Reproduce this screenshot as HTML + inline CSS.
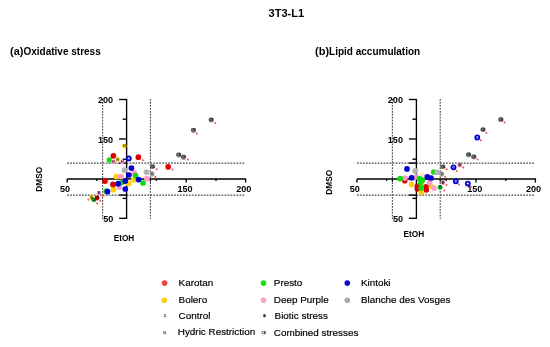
<!DOCTYPE html>
<html lang="en"><head><meta charset="utf-8"><title>3T3-L1</title>
<style>html,body{margin:0;padding:0;background:#fff;}body{width:550px;height:347px;overflow:hidden;font-family:"Liberation Sans",Arial,sans-serif;}svg{display:block}</style>
</head><body>
<svg width="550" height="347" viewBox="0 0 550 347" font-family="'Liberation Sans', Arial, sans-serif">
<rect width="550" height="347" fill="#fff"/>
<text x="286.3" y="17" text-anchor="middle" font-size="11" font-weight="bold">3T3-L1</text>
<text x="10" y="54.6" font-weight="bold"><tspan font-size="11">(a)</tspan><tspan font-size="10">Oxidative stress</tspan></text>
<text x="315" y="54.6" font-weight="bold"><tspan font-size="11">(b)</tspan><tspan font-size="10">Lipid accumulation</tspan></text>
<g><line x1="67.14999999999999" y1="163.1" x2="244.6" y2="163.1" stroke="#4a4a4a" stroke-width="1.1" stroke-dasharray="1.75 1.22"/>
<line x1="67.14999999999999" y1="195.1" x2="244.6" y2="195.1" stroke="#4a4a4a" stroke-width="1.1" stroke-dasharray="1.75 1.22"/>
<line x1="102.6" y1="99.0" x2="102.6" y2="219.0" stroke="#4a4a4a" stroke-width="1.1" stroke-dasharray="1.75 1.22"/>
<line x1="150.4" y1="99.0" x2="150.4" y2="219.0" stroke="#4a4a4a" stroke-width="1.1" stroke-dasharray="1.75 1.22"/>
<line x1="67.14999999999999" y1="178.95" x2="246.2" y2="178.95" stroke="#000" stroke-width="1.35"/>
<line x1="126.6" y1="98.9" x2="126.6" y2="218.9" stroke="#000" stroke-width="1.35"/>
<line x1="67.14999999999999" y1="178.95" x2="67.14999999999999" y2="182.54999999999998" stroke="#000" stroke-width="1.35"/>
<line x1="186.2" y1="178.95" x2="186.2" y2="182.54999999999998" stroke="#000" stroke-width="1.35"/>
<line x1="245.6" y1="178.95" x2="245.6" y2="182.54999999999998" stroke="#000" stroke-width="1.35"/>
<line x1="96.8" y1="178.95" x2="96.8" y2="180.95" stroke="#000" stroke-width="1.35"/>
<line x1="156.4" y1="178.95" x2="156.4" y2="180.95" stroke="#000" stroke-width="1.35"/>
<line x1="216.0" y1="178.95" x2="216.0" y2="180.95" stroke="#000" stroke-width="1.35"/>
<line x1="102.6" y1="178.95" x2="102.6" y2="181.95" stroke="#000" stroke-width="1"/>
<line x1="150.4" y1="178.95" x2="150.4" y2="181.95" stroke="#000" stroke-width="1"/>
<line x1="119.1" y1="99.5" x2="126.6" y2="99.5" stroke="#000" stroke-width="1.35"/>
<line x1="119.1" y1="139.0" x2="126.6" y2="139.0" stroke="#000" stroke-width="1.35"/>
<line x1="119.1" y1="218.3" x2="126.6" y2="218.3" stroke="#000" stroke-width="1.35"/>
<line x1="122.6" y1="119.2" x2="126.6" y2="119.2" stroke="#000" stroke-width="1.35"/>
<line x1="122.6" y1="159.2" x2="126.6" y2="159.2" stroke="#000" stroke-width="1.35"/>
<line x1="122.6" y1="198.4" x2="126.6" y2="198.4" stroke="#000" stroke-width="1.35"/>
<line x1="119.1" y1="163.1" x2="126.6" y2="163.1" stroke="#000" stroke-width="1.35"/>
<line x1="119.1" y1="195.1" x2="126.6" y2="195.1" stroke="#000" stroke-width="1.35"/>
<text x="64.94999999999999" y="192.2" text-anchor="middle" font-size="9.1" font-weight="bold" fill="#000">50</text>
<text x="185.0" y="192.2" text-anchor="middle" font-size="9.1" font-weight="bold" fill="#000">150</text>
<text x="243.79999999999998" y="192.2" text-anchor="middle" font-size="9.1" font-weight="bold" fill="#000">200</text>
<text x="113.19999999999999" y="103.0" text-anchor="end" font-size="9.1" font-weight="bold" fill="#000">200</text>
<text x="113.19999999999999" y="142.5" text-anchor="end" font-size="9.1" font-weight="bold" fill="#000">150</text>
<text x="113.39999999999999" y="221.7" text-anchor="end" font-size="9.1" font-weight="bold" fill="#000">50</text>
<text x="124.0" y="241.1" text-anchor="middle" font-size="8.25" font-weight="bold">EtOH</text>
<text transform="translate(42.39999999999999,179.2) rotate(-90)" text-anchor="middle" font-size="8.3" font-weight="bold">DMSO</text></g>
<g><line x1="356.95" y1="163.1" x2="534.4" y2="163.1" stroke="#4a4a4a" stroke-width="1.1" stroke-dasharray="1.75 1.22"/>
<line x1="356.95" y1="195.1" x2="534.4" y2="195.1" stroke="#4a4a4a" stroke-width="1.1" stroke-dasharray="1.75 1.22"/>
<line x1="392.4" y1="99.0" x2="392.4" y2="219.0" stroke="#4a4a4a" stroke-width="1.1" stroke-dasharray="1.75 1.22"/>
<line x1="440.2" y1="99.0" x2="440.2" y2="219.0" stroke="#4a4a4a" stroke-width="1.1" stroke-dasharray="1.75 1.22"/>
<line x1="356.95" y1="178.95" x2="536.0" y2="178.95" stroke="#000" stroke-width="1.35"/>
<line x1="416.4" y1="98.9" x2="416.4" y2="218.9" stroke="#000" stroke-width="1.35"/>
<line x1="356.95" y1="178.95" x2="356.95" y2="182.54999999999998" stroke="#000" stroke-width="1.35"/>
<line x1="476.0" y1="178.95" x2="476.0" y2="182.54999999999998" stroke="#000" stroke-width="1.35"/>
<line x1="535.4" y1="178.95" x2="535.4" y2="182.54999999999998" stroke="#000" stroke-width="1.35"/>
<line x1="386.59999999999997" y1="178.95" x2="386.59999999999997" y2="180.95" stroke="#000" stroke-width="1.35"/>
<line x1="446.2" y1="178.95" x2="446.2" y2="180.95" stroke="#000" stroke-width="1.35"/>
<line x1="505.79999999999995" y1="178.95" x2="505.79999999999995" y2="180.95" stroke="#000" stroke-width="1.35"/>
<line x1="392.4" y1="178.95" x2="392.4" y2="181.95" stroke="#000" stroke-width="1"/>
<line x1="440.2" y1="178.95" x2="440.2" y2="181.95" stroke="#000" stroke-width="1"/>
<line x1="408.9" y1="99.5" x2="416.4" y2="99.5" stroke="#000" stroke-width="1.35"/>
<line x1="408.9" y1="139.0" x2="416.4" y2="139.0" stroke="#000" stroke-width="1.35"/>
<line x1="408.9" y1="218.3" x2="416.4" y2="218.3" stroke="#000" stroke-width="1.35"/>
<line x1="412.4" y1="119.2" x2="416.4" y2="119.2" stroke="#000" stroke-width="1.35"/>
<line x1="412.4" y1="159.2" x2="416.4" y2="159.2" stroke="#000" stroke-width="1.35"/>
<line x1="412.4" y1="198.4" x2="416.4" y2="198.4" stroke="#000" stroke-width="1.35"/>
<line x1="408.9" y1="163.1" x2="416.4" y2="163.1" stroke="#000" stroke-width="1.35"/>
<line x1="408.9" y1="195.1" x2="416.4" y2="195.1" stroke="#000" stroke-width="1.35"/>
<text x="354.75" y="192.2" text-anchor="middle" font-size="9.1" font-weight="bold" fill="#000">50</text>
<text x="474.79999999999995" y="192.2" text-anchor="middle" font-size="9.1" font-weight="bold" fill="#000">150</text>
<text x="533.6" y="192.2" text-anchor="middle" font-size="9.1" font-weight="bold" fill="#000">200</text>
<text x="403.0" y="103.0" text-anchor="end" font-size="9.1" font-weight="bold" fill="#000">200</text>
<text x="403.0" y="142.5" text-anchor="end" font-size="9.1" font-weight="bold" fill="#000">150</text>
<text x="403.2" y="221.7" text-anchor="end" font-size="9.1" font-weight="bold" fill="#000">50</text>
<text x="413.79999999999995" y="236.7" text-anchor="middle" font-size="8.25" font-weight="bold">EtOH</text>
<text transform="translate(332.2,182.3) rotate(-90)" text-anchor="middle" font-size="8.3" font-weight="bold">DMSO</text></g>
<g><circle cx="116.4" cy="176.5" r="2.85" fill="#ffd000"/><circle cx="133.7" cy="179.8" r="2.85" fill="#ffd000"/><circle cx="128.7" cy="183.5" r="2.85" fill="#ffd000"/><circle cx="113.5" cy="189.7" r="2.85" fill="#ffd000"/><circle cx="91.6" cy="197.5" r="2.2" fill="#e8c000"/><text x="91.6" y="198.6" font-size="3.2" font-weight="bold" text-anchor="middle" fill="#540">B</text><circle cx="113.4" cy="155.8" r="2.85" fill="#e00000"/><circle cx="138.4" cy="157.2" r="2.85" fill="#e00000"/><circle cx="105" cy="181.1" r="2.85" fill="#e00000"/><circle cx="113" cy="184.4" r="2.85" fill="#e00000"/><circle cx="168.2" cy="166.8" r="2.85" fill="#e00000"/><circle cx="97.1" cy="198" r="2.4" fill="#d00000"/><text x="97.1" y="199.1" font-size="3.2" font-weight="bold" text-anchor="middle" fill="#500">CB</text><circle cx="109.3" cy="159.9" r="2.6" fill="#10dc10"/><circle cx="134.2" cy="172.8" r="2.85" fill="#ff9ac8"/><circle cx="121" cy="176.5" r="2.85" fill="#ff9ac8"/><circle cx="119.4" cy="187.1" r="2.85" fill="#ff9ac8"/><circle cx="146.8" cy="178.6" r="2.85" fill="#ff9ac8"/><circle cx="135.6" cy="175.6" r="2.85" fill="#10dc10"/><circle cx="143" cy="183" r="2.85" fill="#10dc10"/><circle cx="121.8" cy="182.5" r="2.85" fill="#10dc10"/><circle cx="106.3" cy="191.2" r="2.85" fill="#10dc10"/><circle cx="93.9" cy="199.8" r="2.4" fill="#10a810"/><text x="93.9" y="200.9" font-size="3.2" font-weight="bold" text-anchor="middle" fill="#043">CB</text><circle cx="124.3" cy="146.1" r="2.3" fill="#ffd000"/><text x="124.3" y="147.2" font-size="3.2" font-weight="bold" text-anchor="middle" fill="#1a1a1a">H</text><circle cx="117.6" cy="159.4" r="2.3" fill="#ffd000"/><text x="117.6" y="160.5" font-size="3.2" font-weight="bold" text-anchor="middle" fill="#1a1a1a">H</text><circle cx="113.5" cy="161.9" r="2.3" fill="#ff9ac8"/><text x="113.5" y="163.0" font-size="3.2" font-weight="bold" text-anchor="middle" fill="#1a1a1a">H</text><circle cx="122.3" cy="162.1" r="2.3" fill="#ff9ac8"/><text x="122.3" y="163.2" font-size="3.2" font-weight="bold" text-anchor="middle" fill="#1a1a1a">H</text><circle cx="98.9" cy="193.0" r="2.3" fill="#ff9ac8"/><text x="98.9" y="194.1" font-size="3.2" font-weight="bold" text-anchor="middle" fill="#1a1a1a">B</text><circle cx="124.6" cy="170.2" r="2.85" fill="#b4b4b4"/><circle cx="131.4" cy="168.1" r="2.85" fill="#0000d0"/><circle cx="128.9" cy="175" r="2.85" fill="#0000d0"/><circle cx="138.5" cy="179.6" r="2.85" fill="#0000d0"/><circle cx="125.3" cy="181.1" r="2.85" fill="#0000d0"/><circle cx="118.2" cy="183.7" r="2.85" fill="#0000d0"/><circle cx="125.3" cy="189" r="2.85" fill="#0000d0"/><circle cx="107.5" cy="191.6" r="2.85" fill="#0000d0"/><circle cx="128.8" cy="158.4" r="2.9" fill="#0000d0"/><circle cx="128.8" cy="158.4" r="1.15" fill="#e8e8ff"/><text x="128.8" y="159.3" font-size="2.4" font-weight="bold" text-anchor="middle" fill="#0000d0">H</text><circle cx="146.5" cy="172.1" r="2.85" fill="#b4b4b4"/><circle cx="152.1" cy="173.9" r="2.5" fill="#a0a0a0"/><text x="152.1" y="175.0" font-size="3.2" font-weight="bold" text-anchor="middle" fill="#1a1a1a">C</text><circle cx="152.5" cy="166.5" r="2.5" fill="#808080"/><text x="152.5" y="167.6" font-size="3.2" font-weight="bold" text-anchor="middle" fill="#1a1a1a">CB</text><circle cx="211.2" cy="119.8" r="2.6" fill="#808080"/><text x="211.2" y="120.89999999999999" font-size="3.2" font-weight="bold" text-anchor="middle" fill="#1a1a1a">CB</text><circle cx="193.5" cy="130.3" r="2.6" fill="#808080"/><text x="193.5" y="131.4" font-size="3.2" font-weight="bold" text-anchor="middle" fill="#1a1a1a">CB</text><circle cx="178.7" cy="154.8" r="2.6" fill="#808080"/><text x="178.7" y="155.9" font-size="3.2" font-weight="bold" text-anchor="middle" fill="#1a1a1a">CB</text><circle cx="183.5" cy="157.2" r="2.6" fill="#808080"/><text x="183.5" y="158.29999999999998" font-size="3.2" font-weight="bold" text-anchor="middle" fill="#1a1a1a">CB</text><circle cx="215.3" cy="123" r="1.0" fill="#f25050"/><circle cx="196.8" cy="133.5" r="1.0" fill="#f25050"/><circle cx="187.8" cy="159.5" r="1.0" fill="#f25050"/><circle cx="143" cy="160.3" r="1.0" fill="#f25050"/><circle cx="156.7" cy="169.3" r="1.0" fill="#f25050"/><circle cx="172.4" cy="169.5" r="1.0" fill="#f25050"/><circle cx="155.3" cy="177.1" r="1.0" fill="#f25050"/><circle cx="88.4" cy="199.8" r="1.0" fill="#f25050"/><circle cx="97.1" cy="203.5" r="1.0" fill="#f25050"/><circle cx="100.2" cy="200.7" r="1.0" fill="#f25050"/><circle cx="102.7" cy="195.7" r="1.0" fill="#f25050"/></g>
<g><circle cx="404.8" cy="180.8" r="2.8" fill="#e00000"/><circle cx="417.3" cy="186.4" r="2.8" fill="#e00000"/><circle cx="417.3" cy="189.0" r="2.8" fill="#e00000"/><circle cx="426" cy="186.9" r="2.8" fill="#e00000"/><circle cx="426.3" cy="190.0" r="2.8" fill="#e00000"/><circle cx="411.4" cy="184.4" r="2.6" fill="#ffc800"/><circle cx="421.2" cy="192.6" r="2.6" fill="#ffc800"/><circle cx="431.5" cy="186.5" r="2.6" fill="#ffc800"/><circle cx="404.8" cy="178" r="2.85" fill="#ff9ac8"/><circle cx="415.9" cy="177.1" r="2.85" fill="#ff9ac8"/><circle cx="429.6" cy="182.6" r="2.85" fill="#ff9ac8"/><circle cx="434" cy="188.1" r="2.85" fill="#ff9ac8"/><circle cx="422.6" cy="175.4" r="2.85" fill="#ffe4d8"/><circle cx="400.2" cy="178.7" r="2.85" fill="#10dc10"/><circle cx="419.5" cy="178.5" r="2.85" fill="#10dc10"/><circle cx="422.3" cy="180.2" r="2.85" fill="#10dc10"/><circle cx="420.8" cy="183.0" r="2.85" fill="#10dc10"/><circle cx="421.2" cy="188.1" r="2.85" fill="#10dc10"/><circle cx="433.8" cy="172" r="2.85" fill="#10dc10"/><circle cx="440.1" cy="187.2" r="2.5" fill="#10b820"/><text x="440.1" y="188.29999999999998" font-size="3.2" font-weight="bold" text-anchor="middle" fill="#1a1a1a">B</text><circle cx="407" cy="168.9" r="2.85" fill="#0000d0"/><circle cx="411.6" cy="177.8" r="2.85" fill="#0000d0"/><circle cx="427.3" cy="176.9" r="2.85" fill="#0000d0"/><circle cx="431" cy="178" r="2.85" fill="#0000d0"/><circle cx="415.3" cy="170.9" r="2.85" fill="#b4b4b4"/><circle cx="437.2" cy="172.3" r="2.85" fill="#b4b4b4"/><circle cx="441.8" cy="174.1" r="2.5" fill="#a0a0a0"/><text x="441.8" y="175.2" font-size="3.2" font-weight="bold" text-anchor="middle" fill="#1a1a1a">C</text><circle cx="442.9" cy="166.8" r="2.5" fill="#808080"/><text x="442.9" y="167.9" font-size="3.2" font-weight="bold" text-anchor="middle" fill="#1a1a1a">CB</text><circle cx="468.6" cy="154.6" r="2.6" fill="#808080"/><text x="468.6" y="155.7" font-size="3.2" font-weight="bold" text-anchor="middle" fill="#1a1a1a">CB</text><circle cx="473.8" cy="156.8" r="2.6" fill="#808080"/><text x="473.8" y="157.9" font-size="3.2" font-weight="bold" text-anchor="middle" fill="#1a1a1a">CB</text><circle cx="483" cy="129.5" r="2.6" fill="#808080"/><text x="483" y="130.6" font-size="3.2" font-weight="bold" text-anchor="middle" fill="#1a1a1a">CB</text><circle cx="500.9" cy="119.4" r="2.6" fill="#808080"/><text x="500.9" y="120.5" font-size="3.2" font-weight="bold" text-anchor="middle" fill="#1a1a1a">CB</text><circle cx="459.7" cy="165" r="2.3" fill="#e070a8"/><text x="459.7" y="166.1" font-size="3.2" font-weight="bold" text-anchor="middle" fill="#1a1a1a">B</text><circle cx="442.9" cy="182.4" r="2.3" fill="#e070a8"/><text x="442.9" y="183.5" font-size="3.2" font-weight="bold" text-anchor="middle" fill="#1a1a1a">B</text><circle cx="453.5" cy="167.3" r="2.9" fill="#0000d0"/><circle cx="453.5" cy="167.3" r="1.15" fill="#e8e8ff"/><text x="453.5" y="168.20000000000002" font-size="2.4" font-weight="bold" text-anchor="middle" fill="#0000d0">B</text><circle cx="455.8" cy="181.3" r="2.9" fill="#0000d0"/><circle cx="455.8" cy="181.3" r="1.15" fill="#e8e8ff"/><text x="455.8" y="182.20000000000002" font-size="2.4" font-weight="bold" text-anchor="middle" fill="#0000d0">C</text><circle cx="467.8" cy="183.6" r="2.9" fill="#0000d0"/><circle cx="467.8" cy="183.6" r="1.15" fill="#e8e8ff"/><text x="467.8" y="184.5" font-size="2.4" font-weight="bold" text-anchor="middle" fill="#0000d0">H</text><circle cx="477.3" cy="137.5" r="2.9" fill="#0000d0"/><circle cx="477.3" cy="137.5" r="1.15" fill="#e8e8ff"/><text x="477.3" y="138.4" font-size="2.4" font-weight="bold" text-anchor="middle" fill="#0000d0">CB</text><circle cx="446.6" cy="169.3" r="1.0" fill="#f25050"/><circle cx="456.7" cy="171" r="1.0" fill="#f25050"/><circle cx="463.2" cy="167.6" r="1.0" fill="#f25050"/><circle cx="445.2" cy="176.7" r="1.0" fill="#f25050"/><circle cx="459" cy="184.6" r="1.0" fill="#f25050"/><circle cx="446.6" cy="184.9" r="1.0" fill="#f25050"/><circle cx="444.3" cy="190.5" r="1.0" fill="#f25050"/><circle cx="477.5" cy="159.4" r="1.0" fill="#f25050"/><circle cx="486.3" cy="133" r="1.0" fill="#f25050"/><circle cx="480.8" cy="140.2" r="1.0" fill="#f25050"/><circle cx="504.5" cy="122.5" r="1.0" fill="#f25050"/><circle cx="471" cy="186.6" r="1.0" fill="#f25050"/></g>
<g><circle cx="164.6" cy="283.1" r="2.8" fill="#ee4040"/>
<circle cx="164.4" cy="300.2" r="2.8" fill="#ffcc10"/>
<circle cx="263.5" cy="283.1" r="2.8" fill="#18e018"/>
<circle cx="263.5" cy="300.2" r="2.8" fill="#f8a0c8"/>
<circle cx="347.3" cy="283.1" r="2.8" fill="#0808d8"/>
<circle cx="347.3" cy="300.2" r="2.8" fill="#a8a8a8"/>
<text x="178.6" y="286.3" font-size="9.9" fill="#000" stroke="#000" stroke-width="0.18">Karotan</text>
<text x="178.6" y="303.3" font-size="9.9" fill="#000" stroke="#000" stroke-width="0.18">Bolero</text>
<text x="178.6" y="318.9" font-size="9.9" fill="#000" stroke="#000" stroke-width="0.18">Control</text>
<text x="177.8" y="334.6" font-size="9.9" fill="#000" stroke="#000" stroke-width="0.18">Hydric Restriction</text>
<text x="273.8" y="286.3" font-size="9.9" fill="#000" stroke="#000" stroke-width="0.18">Presto</text>
<text x="273.8" y="303.3" font-size="9.9" fill="#000" stroke="#000" stroke-width="0.18">Deep Purple</text>
<text x="274.6" y="318.9" font-size="9.9" fill="#000" stroke="#000" stroke-width="0.18">Biotic stress</text>
<text x="273.8" y="336.1" font-size="9.9" fill="#000" stroke="#000" stroke-width="0.18">Combined stresses</text>
<text x="360.9" y="286.3" font-size="9.9" fill="#000" stroke="#000" stroke-width="0.18">Kintoki</text>
<text x="360.9" y="303.3" font-size="9.9" fill="#000" stroke="#000" stroke-width="0.18">Blanche des Vosges</text>
<circle cx="165.1" cy="316" r="2.1" fill="#e6e6e6"/><text x="165.1" y="317.0" font-size="3" font-weight="bold" text-anchor="middle" fill="#111">C</text>
<circle cx="164.5" cy="333.2" r="2.1" fill="#e6e6e6"/><text x="164.5" y="334.2" font-size="3" font-weight="bold" text-anchor="middle" fill="#111">H</text>
<circle cx="264.5" cy="316" r="1.4" fill="#777"/><text x="264.5" y="317.0" font-size="3" font-weight="bold" text-anchor="middle" fill="#111">B</text>
<circle cx="263.7" cy="333.4" r="2.3" fill="#e6e6e6"/><text x="263.7" y="334.4" font-size="3" font-weight="bold" text-anchor="middle" fill="#111">CB</text></g>
</svg>
</body></html>
